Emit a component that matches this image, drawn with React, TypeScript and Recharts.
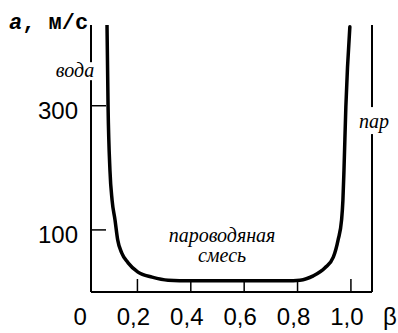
import React from 'react';
import { LineChart, Line, XAxis, YAxis, ReferenceDot } from 'recharts';

// void fraction β and speed of sound a, m/s
const beta = [0.086, 0.09, 0.097, 0.105, 0.116, 0.126, 0.141, 0.165, 0.202, 0.255, 0.315, 0.4, 0.5, 0.6, 0.7, 0.759, 0.809, 0.859, 0.903, 0.934, 0.952, 0.965, 0.97, 0.974, 0.981, 0.996];
const speed = [430, 298, 196, 148, 116, 84, 63, 47, 32, 24, 19, 18, 18, 18, 18, 18, 19, 26, 39, 56, 84, 116, 148, 196, 298, 427];

const xTicks = [0, 0.2, 0.4, 0.6, 0.8, 1.0];
const yTicks = [100, 300];
const xDomain = [0.026, 1.079];
const yDomain = [0, 430];

const data = beta.map((b, i) => ({ b, a: speed[i] }));

const numFont = 'Liberation Sans';
const italicFont = 'Liberation Serif';

const fmtX = (v: number) => (v === 0 ? '0' : v.toFixed(1).replace('.', ','));

const XTick = (props: any) => {
  const { x, y, payload } = props;
  const v = payload.value;
  return (
    <g>
      {v > 0 && <line x1={x} y1={y} x2={x} y2={y - 13} stroke="#000" strokeWidth={1.5} />}
      <text x={x - 4} y={y + 33} textAnchor="middle" fontFamily={numFont} fontSize={24} fill="#000">
        {fmtX(v)}
      </text>
    </g>
  );
};

const YTick = (props: any) => {
  const { x, y, payload } = props;
  return (
    <g>
      <line x1={x} y1={y} x2={x + 15} y2={y} stroke="#000" strokeWidth={1.5} />
      <text x={x - 13} y={y + 13} textAnchor="end" fontFamily={numFont} fontSize={24} fill="#000">
        {payload.value}
      </text>
    </g>
  );
};

const waterLabel = ({ viewBox }: any) => {
  const cx = viewBox.x + viewBox.width / 2;
  const cy = viewBox.y + viewBox.height / 2;
  return (
    <g>
      <rect x={cx - 38} y={cy - 10} width={46} height={18} fill="#fff" />
      <text x={cx - 16} y={cy + 5} textAnchor="middle" fontFamily={italicFont} fontStyle="italic" fontSize={20} fill="#000">
        вода
      </text>
    </g>
  );
};

const steamLabel = ({ viewBox }: any) => {
  const cx = viewBox.x + viewBox.width / 2;
  const cy = viewBox.y + viewBox.height / 2;
  return (
    <g>
      <rect x={cx - 14} y={cy - 21} width={33} height={27} fill="#fff" />
      <text x={cx + 2} y={cy} textAnchor="middle" fontFamily={italicFont} fontStyle="italic" fontSize={20} fill="#000">
        пар
      </text>
    </g>
  );
};

const mixLabel = ({ viewBox }: any) => {
  const cx = viewBox.x + viewBox.width / 2;
  const cy = viewBox.y + viewBox.height / 2;
  return (
    <g fontFamily={italicFont} fontStyle="italic" fontSize={20} fill="#000">
      <text x={cx} y={cy} textAnchor="middle">пароводяная</text>
      <text x={cx} y={cy + 20} textAnchor="middle">смесь</text>
    </g>
  );
};

export default function App() {
  return (
    <div style={{ position: 'absolute', left: 0, top: 0, width: 398, height: 333, background: '#fff' }}>
      <LineChart width={398} height={333} data={data} margin={{ top: 25, right: 0, left: 0, bottom: 0 }}>
        <XAxis
          type="number"
          dataKey="b"
          domain={xDomain}
          allowDataOverflow
          ticks={xTicks}
          interval={0}
          height={41}
          tickSize={0}
          tickMargin={0}
          tickLine={false}
          tick={<XTick />}
          axisLine={{ stroke: '#000', strokeWidth: 2 }}
          label={{
            content: ({ viewBox }: any) => (
              <text x={viewBox.x + viewBox.width + 18} y={viewBox.y + 33} textAnchor="middle" fontFamily={numFont} fontSize={24} fill="#000">
                β
              </text>
            ),
          }}
        />
        <YAxis
          type="number"
          domain={yDomain}
          allowDataOverflow
          ticks={yTicks}
          interval={0}
          width={91}
          tickSize={0}
          tickMargin={0}
          tickLine={false}
          tick={<YTick />}
          axisLine={{ stroke: '#000', strokeWidth: 2 }}
          label={{
            content: ({ viewBox }: any) => (
              <text x={viewBox.x + 9} y={viewBox.y + 4} fontFamily="Liberation Mono" fontWeight="bold" fontSize={22} fill="#000">
                <tspan fontStyle="italic">a</tspan>, м/с
              </text>
            ),
          }}
        />
        <YAxis
          yAxisId="right"
          orientation="right"
          type="number"
          domain={yDomain}
          width={26}
          tick={false}
          tickLine={false}
          axisLine={{ stroke: '#000', strokeWidth: 2 }}
        />
        <Line
          type="monotone"
          dataKey="a"
          stroke="#000"
          strokeWidth={3.5}
          dot={false}
          strokeLinecap="round"
          isAnimationActive={false}
        />
        <ReferenceDot x={xDomain[0]} y={354} r={0} fill="none" stroke="none" label={waterLabel} />
        <ReferenceDot x={xDomain[1]} y={264} r={0} fill="none" stroke="none" label={steamLabel} />
        <ReferenceDot x={0.517} y={80} r={0} fill="none" stroke="none" label={mixLabel} />
      </LineChart>
    </div>
  );
}
